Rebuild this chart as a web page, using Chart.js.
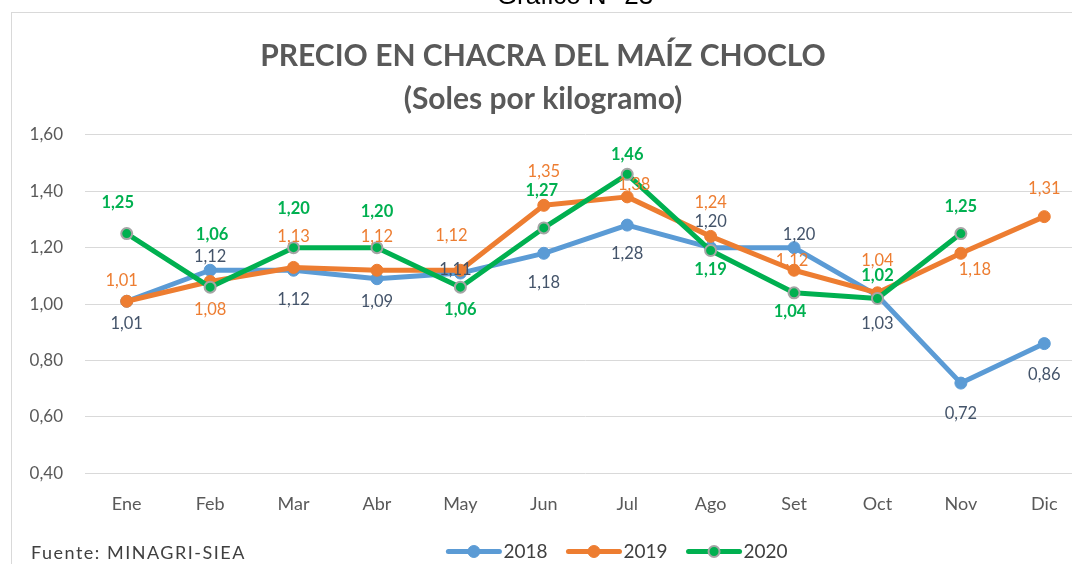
<!DOCTYPE html>
<html><head><meta charset="utf-8">
<script src="https://cdn.jsdelivr.net/npm/chart.js@4.4.0/dist/chart.umd.min.js"></script>
<style>
html,body{margin:0;padding:0;background:#fff;overflow:hidden;width:1072px;height:564px}
#wrap{position:relative;width:1072px;height:564px;overflow:hidden;background:#fff}
#frame{position:absolute;left:11px;top:12px;width:1200px;height:700px;border-left:1px solid #d9d9d9;border-top:1px solid #d9d9d9}
#sup{position:absolute;left:0;width:1150px;top:-20px;text-align:center;font:26px "Liberation Sans",Arial,sans-serif;color:#000;line-height:30px;z-index:2}
canvas{position:absolute;left:0;top:0}
</style></head>
<body><div id="wrap"><div id="frame"></div><canvas id="c" style="width:1100px;height:564px"></canvas><div id="sup">Gráfico N° 23</div></div>
<script>
// ---- data ----
const months = ['Ene','Feb','Mar','Abr','May','Jun','Jul','Ago','Set','Oct','Nov','Dic'];
const seriesNames = ['2018','2019','2020'];
const price2018 = [1.01,1.12,1.12,1.09,1.11,1.18,1.28,1.20,1.20,1.03,0.72,0.86];
const price2019 = [1.01,1.08,1.13,1.12,1.12,1.35,1.38,1.24,1.12,1.04,1.18,1.31];
const price2020 = [1.25,1.06,1.20,1.20,1.06,1.27,1.46,1.19,1.04,1.02,1.25,null];
const yMin = 0.40, yMax = 1.60, yStep = 0.20;
const titleLines = ['PRECIO EN CHACRA DEL MAÍZ CHOCLO','(Soles por kilogramo)'];
const sourceText = 'Fuente: MINAGRI-SIEA';

// ---- label placement (pixels relative to point) ----
const off2018 = {dx:[0,0,0,0,-5,0,0,0,5,0,0,0], dy:[22,-14,29,23,-3,29,29,-26,-13,28,31,31]};
const off2019 = {dx:[-5,0,0,0,-9,0,7,0,-2,0,14,0], dy:[-21,28,-31,-34,-35,-34,-12,-34,-10,-32,16,-28]};
const off2020 = {dx:[-9,2,0,0,0,-2,0,0,-4,0,0,0], dy:[-31,-52,-39,-36,23,-37,-20,19,19,-23,-27,0]};

const fmt = v => v.toFixed(2).replace('.', ',');
const FONT = 'Lato, "Open Sans", sans-serif';

const labelPlugin = {
  id: 'vlabels',
  afterDatasetsDraw(chart) {
    const ctx = chart.ctx;
    chart.data.datasets.forEach((ds, i) => {
      const meta = chart.getDatasetMeta(i);
      const off = ds.labelOffsets;
      ctx.save();
      ctx.font = (ds.labelBold ? 'bold ' : '') + '16.5px ' + FONT;
      ctx.fillStyle = ds.labelColor;
      ctx.textAlign = 'center';
      ctx.textBaseline = 'middle';
      meta.data.forEach((pt, j) => {
        const v = ds.data[j];
        if (v == null) return;
        ctx.fillText(fmt(v), pt.x + off.dx[j], pt.y + off.dy[j]);
      });
      ctx.restore();
    });
  }
};

const legendPlugin = {
  id: 'customLegend',
  afterDraw(chart) {
    const ctx = chart.ctx;
    ctx.save();
    ctx.font = '19px ' + FONT;
    ctx.textBaseline = 'middle';
    const lineLen = 55, gapAfterLine = 2, gapItems = 19, y = 551.5;
    const items = chart.data.datasets.map(ds => ({ds, w: ctx.measureText(ds.label).width}));
    const total = items.reduce((s, it) => s + lineLen + gapAfterLine + it.w, 0) + gapItems * (items.length - 1);
    let x = 617 - total / 2;
    items.forEach(it => {
      const ds = it.ds;
      ctx.strokeStyle = ds.borderColor;
      ctx.lineWidth = 5;
      ctx.lineCap = 'round';
      ctx.beginPath(); ctx.moveTo(x + 2, y); ctx.lineTo(x + lineLen - 2, y); ctx.stroke();
      ctx.beginPath(); ctx.arc(x + lineLen / 2, y, ds.pointRadius, 0, Math.PI * 2);
      ctx.fillStyle = ds.pointBackgroundColor; ctx.fill();
      if (ds.pointBorderWidth) { ctx.lineWidth = ds.pointBorderWidth; ctx.strokeStyle = ds.pointBorderColor; ctx.stroke(); }
      ctx.fillStyle = '#404040';
      ctx.textAlign = 'left';
      ctx.fillText(ds.label, x + lineLen + gapAfterLine, y);
      x += lineLen + gapAfterLine + it.w + gapItems;
    });
    // source note
    ctx.fillStyle = '#404040';
    ctx.font = '18px ' + FONT;
    ctx.letterSpacing = '1.5px';
    ctx.textAlign = 'left';
    ctx.fillText(sourceText, 31, 553);
    ctx.restore();
  }
};

function mkSet(name, data, color, labelColor, bold, off, order, ring) {
  return {
    label: name, data,
    borderColor: color, backgroundColor: color,
    borderWidth: 5, borderJoinStyle: 'round', borderCapStyle: 'round',
    pointRadius: ring ? 5.5 : 6,
    pointBackgroundColor: color,
    pointBorderColor: ring ? '#A5A5A5' : color,
    pointBorderWidth: ring ? 2 : 1,
    pointHoverRadius: 6,
    tension: 0, spanGaps: false, order,
    labelColor, labelBold: bold, labelOffsets: off
  };
}

new Chart(document.getElementById('c'), {
  type: 'line',
  data: {
    labels: months,
    datasets: [
      mkSet(seriesNames[0], price2018, '#5B9BD5', '#44546A', false, off2018, 3, false),
      mkSet(seriesNames[1], price2019, '#ED7D31', '#ED7D31', false, off2019, 2, false),
      mkSet(seriesNames[2], price2020, '#00B050', '#00B050', true, off2020, 1, true)
    ]
  },
  options: {
    responsive: false,
    animation: false,
    devicePixelRatio: 1,
    layout: { padding: { left: 0, right: 14, top: 0, bottom: 29 } },
    plugins: {
      legend: { display: false },
      tooltip: { enabled: false },
      title: {
        display: true, text: titleLines, color: '#595959',
        font: { family: FONT, size: 30, weight: 'bold', lineHeight: 1.43 },
        padding: { top: 35, bottom: 14 }
      }
    },
    scales: {
      x: {
        offset: true,
        grid: { display: false, drawTicks: false },
        border: { display: false },
        ticks: { color: '#595959', font: { family: FONT, size: 18 }, padding: 20, maxRotation: 0 }
      },
      y: {
        min: yMin, max: yMax,
        afterFit(scale) { scale.width = 85; },
        grid: { color: '#d9d9d9', lineWidth: 1, drawTicks: false },
        border: { display: false },
        ticks: { stepSize: yStep, color: '#595959', font: { family: FONT, size: 17 }, padding: 22,
          callback: v => fmt(v) }
      }
    }
  },
  plugins: [labelPlugin, legendPlugin]
});
</script>
</body></html>
